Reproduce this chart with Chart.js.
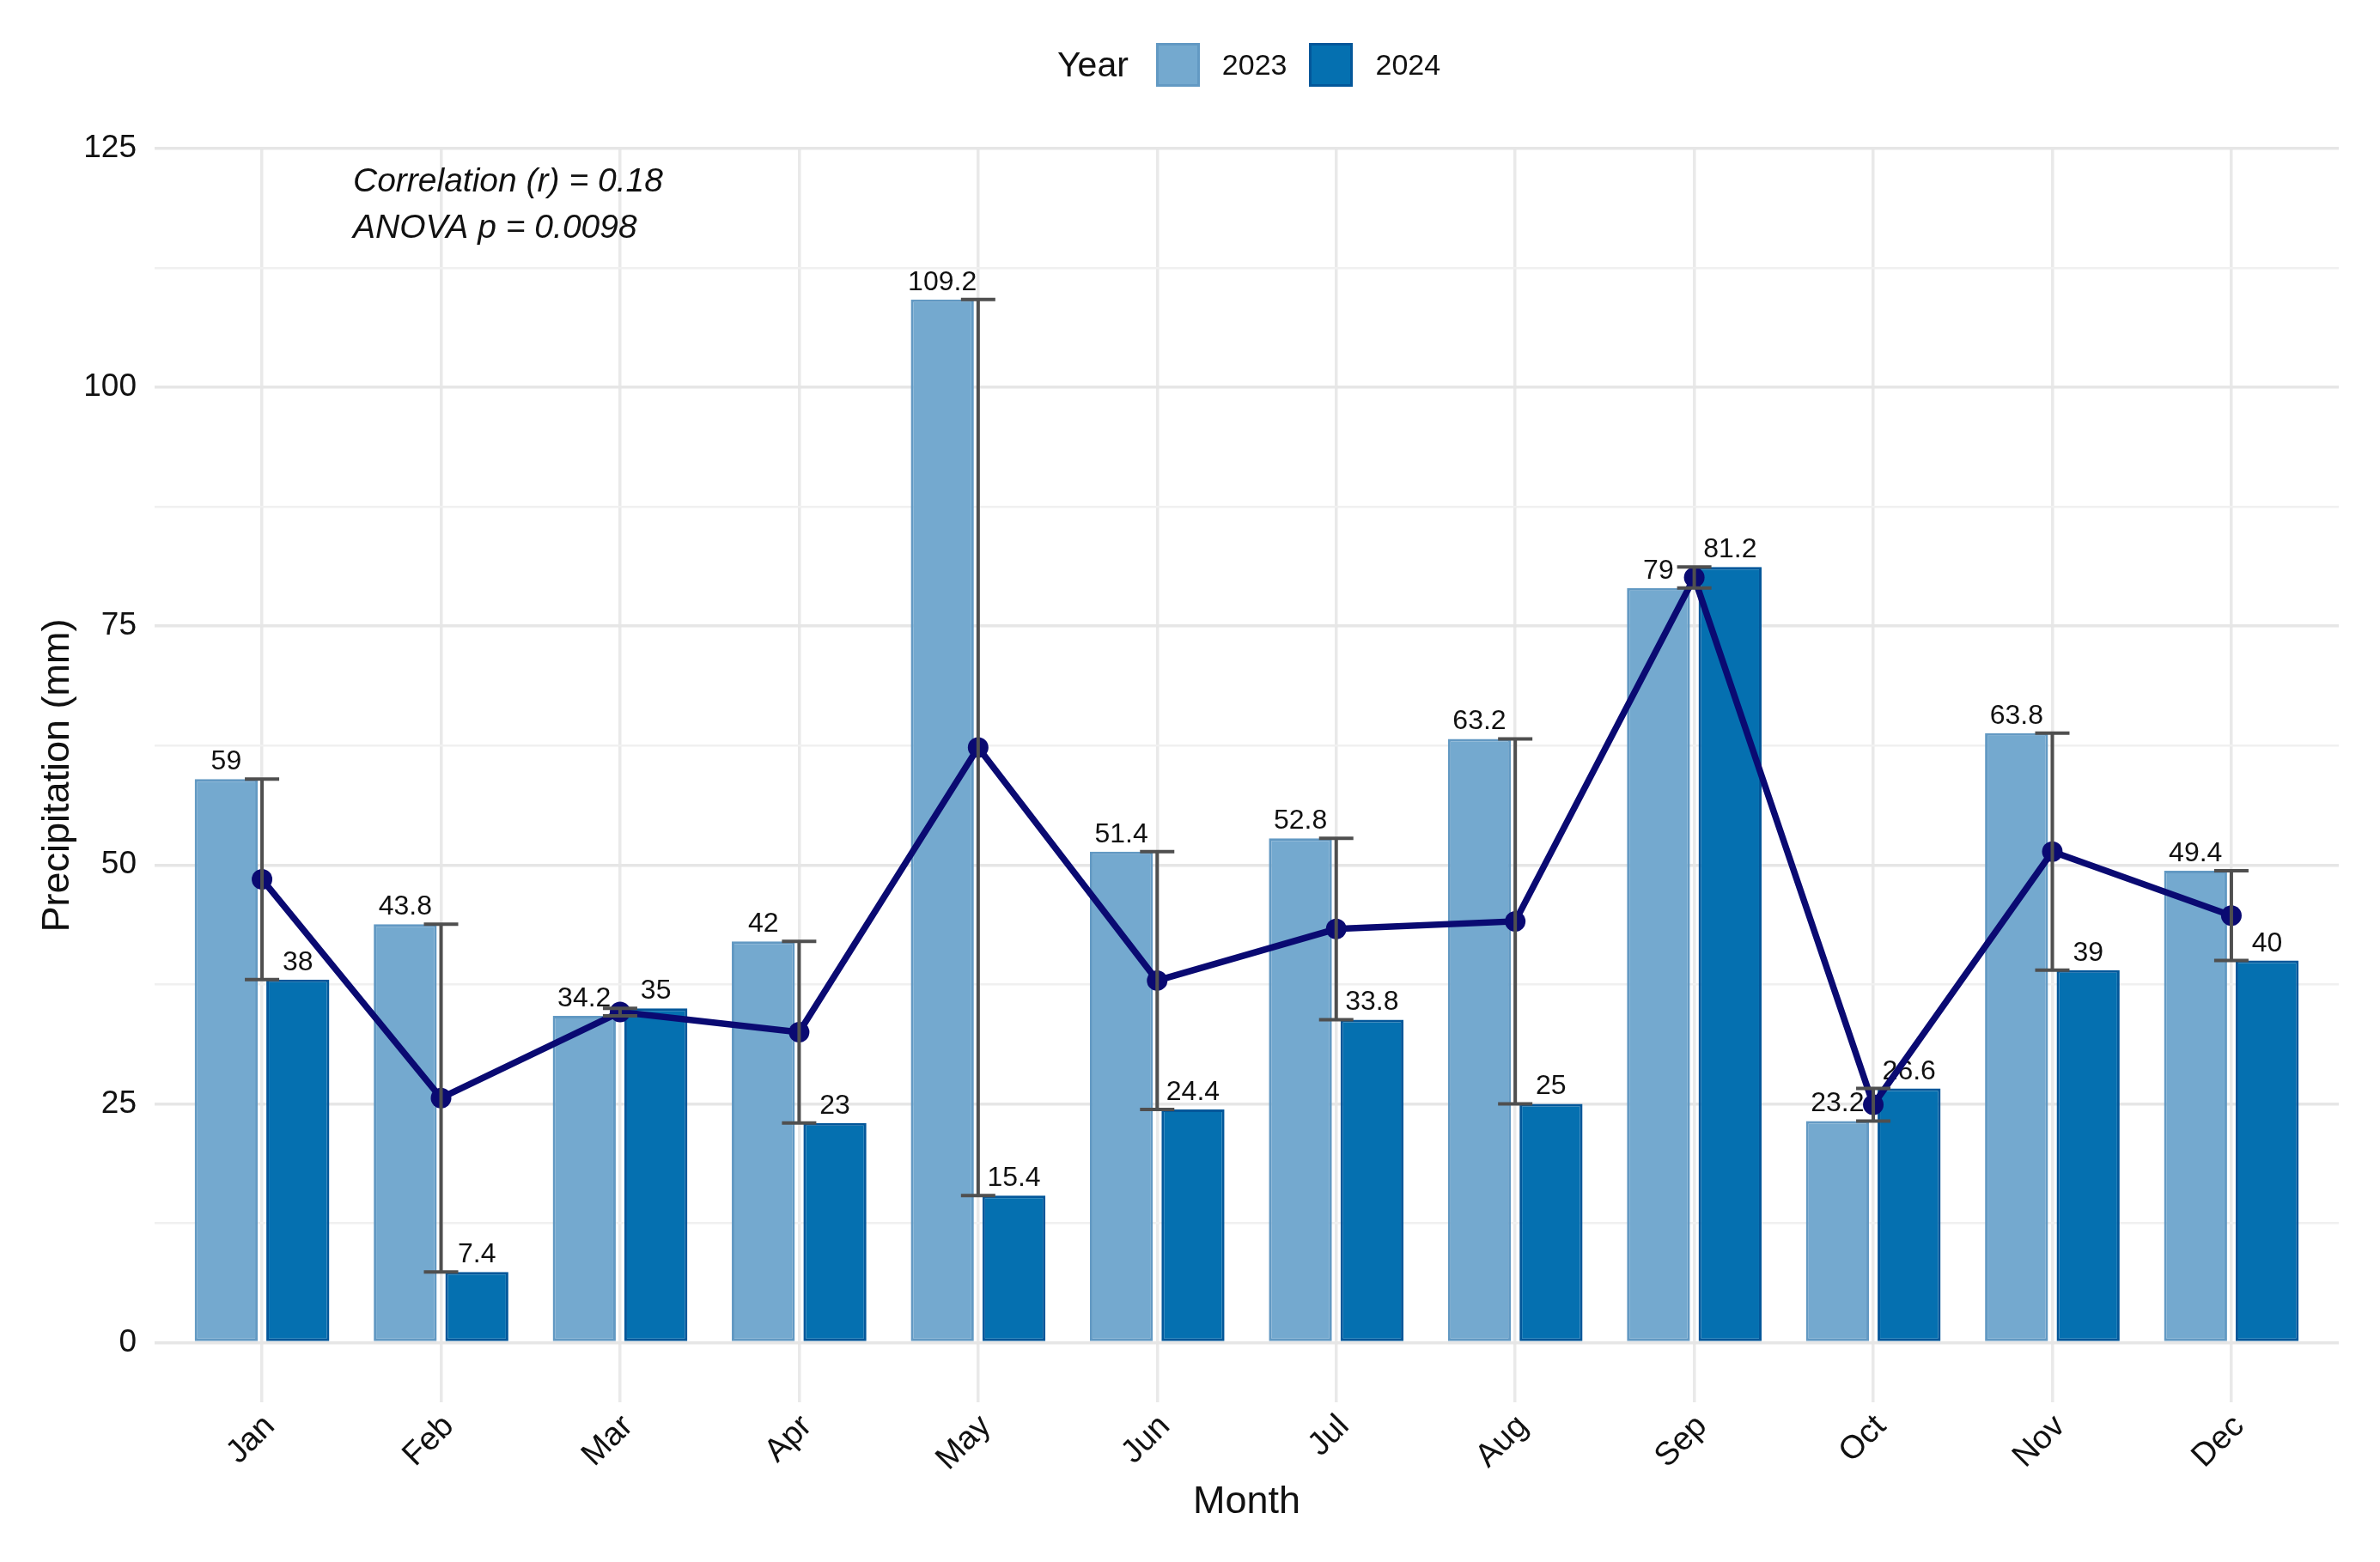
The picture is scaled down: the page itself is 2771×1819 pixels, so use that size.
<!DOCTYPE html>
<html>
<head>
<meta charset="utf-8">
<title>Monthly precipitation 2023 vs 2024</title>
<script src="https://cdn.jsdelivr.net/npm/chart.js@4.4.1/dist/chart.umd.min.js"></script>
<style>
  html, body { margin: 0; padding: 0; background: #fff; }
  #wrap { position: relative; width: 2771px; height: 1819px; }
  #legend {
    position: absolute; left: 1231px; top: 50px; height: 51px;
    display: flex; align-items: center;
    font-family: "Liberation Sans", Arial, sans-serif; color: #111;
  }
  #legend .title { font-size: 41px; margin-right: 32px; }
  #legend .box { width: 51px; height: 51px; box-sizing: border-box; border: 3px solid; }
  #legend .lab { font-size: 34px; margin-left: 26px; margin-right: 26px; }
</style>
</head>
<body>
<div id="wrap">
  <canvas id="rainChart" width="2771" height="1819"></canvas>
  <div id="legend"></div>
</div>
<script>
'use strict';

const months = ['Jan', 'Feb', 'Mar', 'Apr', 'May', 'Jun', 'Jul', 'Aug', 'Sep', 'Oct', 'Nov', 'Dec'];
const rain2023 = [59, 43.8, 34.2, 42, 109.2, 51.4, 52.8, 63.2, 79, 23.2, 63.8, 49.4];
const rain2024 = [38, 7.4, 35, 23, 15.4, 24.4, 33.8, 25, 81.2, 26.6, 39, 40];
// mean line
const monthlyMean = [48.5, 25.6, 34.6, 32.5, 62.3, 37.9, 43.3, 44.1, 80.1, 24.9, 51.4, 44.7];
const yMajorTicks = [0, 25, 50, 75, 100, 125];
const yMinorTicks = [12.5, 37.5, 62.5, 87.5, 112.5];
const statsText = ['Correlation (r) = 0.18', 'ANOVA p = 0.0098'];

const years = ['2023', '2024'];
const fills = ['#74a9cf', '#0570b0'];
const borders = ['#6299c3', '#03579a'];
const navy = '#0a0a72';
const FONT = '"Liberation Sans", Arial, sans-serif';

// Legend (html, ggplot style: title on the left)
const legend = document.getElementById('legend');
legend.innerHTML = '<span class="title">Year</span>';
years.forEach((y, i) => {
    legend.innerHTML += `<span class="box" style="background:${fills[i]};border-color:${borders[i]}"></span><span class="lab">${y}</span>`;
});

// labels on top of each bar
const barLabels = {
    id: 'barLabels',
    afterDatasetDraw(chart, args) {
        const ds = chart.data.datasets[args.index];
        if (ds.type !== 'bar') return;
        const ctx = chart.ctx;
        ctx.save();
        ctx.font = '32px ' + FONT;
        ctx.fillStyle = '#111';
        ctx.textAlign = 'center';
        ctx.textBaseline = 'alphabetic';
        args.meta.data.forEach((bar, i) => {
            ctx.fillText(String(ds.data[i].y), bar.x, bar.y - 11);
        });
        ctx.restore();
    }
};

// range bars between the two years + stats text
const rangeBars = {
    id: 'rangeBars',
    afterDatasetsDraw(chart) {
        const ctx = chart.ctx;
        const xs = chart.scales.x;
        const ys = chart.scales.y;
        ctx.save();
        ctx.strokeStyle = '#4f4f4f';
        ctx.lineWidth = 4;
        months.forEach((m, i) => {
            const x = xs.getPixelForValue(i);
            const lo = ys.getPixelForValue(Math.min(rain2023[i], rain2024[i]));
            const hi = ys.getPixelForValue(Math.max(rain2023[i], rain2024[i]));
            ctx.beginPath();
            ctx.moveTo(x, lo); ctx.lineTo(x, hi);
            ctx.moveTo(x - 20, lo); ctx.lineTo(x + 20, lo);
            ctx.moveTo(x - 20, hi); ctx.lineTo(x + 20, hi);
            ctx.stroke();
        });
        ctx.restore();
    },
    afterDraw(chart) {
        const ctx = chart.ctx;
        const area = chart.chartArea;
        ctx.save();
        ctx.font = 'italic 39px ' + FONT;
        ctx.fillStyle = '#111';
        ctx.textAlign = 'left';
        statsText.forEach((t, i) => {
            ctx.fillText(t, area.left + 231, area.top + 50 + i * 54);
        });
        ctx.restore();
    }
};

const ctx = document.getElementById('rainChart').getContext('2d');
new Chart(ctx, {
    data: {
        datasets: [
            {
                type: 'line',
                label: 'Mean',
                data: monthlyMean.map((v, i) => ({ x: i, y: v })),
                borderColor: navy,
                backgroundColor: navy,
                borderWidth: 7.5,
                pointRadius: 12,
                pointBackgroundColor: navy,
                pointBorderWidth: 0,
                tension: 0,
                order: 0
            },
            {
                type: 'bar',
                label: years[0],
                data: rain2023.map((v, i) => ({ x: i, y: v })),
                backgroundColor: fills[0],
                borderColor: borders[0],
                borderWidth: 3,
                borderSkipped: false,
                categoryPercentage: 0.8,
                barPercentage: 0.88,
                order: 1
            },
            {
                type: 'bar',
                label: years[1],
                data: rain2024.map((v, i) => ({ x: i, y: v })),
                backgroundColor: fills[1],
                borderColor: borders[1],
                borderWidth: 3,
                borderSkipped: false,
                categoryPercentage: 0.8,
                barPercentage: 0.88,
                order: 1
            }
        ]
    },
    options: {
        responsive: false,
        animation: false,
        devicePixelRatio: 1,
        layout: { padding: { left: 0, top: 173, right: 48, bottom: 0 } },
        plugins: {
            legend: { display: false },
            tooltip: { enabled: false }
        },
        scales: {
            x: {
                type: 'linear',
                min: -0.6,
                max: 11.6,
                offset: false,
                afterBuildTicks: scale => {
                    scale.ticks = months.map((m, i) => ({ value: i }));
                },
                afterFit: scale => { scale.height = 186; },
                grid: { offset: false, color: '#e9e9e9', lineWidth: 3.5, drawTicks: false },
                border: { display: false },
                ticks: {
                    callback: v => months[v],
                    minRotation: 45,
                    maxRotation: 45,
                    padding: 6,
                    labelOffset: 9,
                    color: '#111',
                    font: { family: FONT, size: 38 }
                },
                title: {
                    display: true,
                    text: 'Month',
                    color: '#111',
                    font: { family: FONT, size: 45 },
                    padding: { top: 0, bottom: 42 }
                }
            },
            y: {
                type: 'linear',
                min: -6.25,
                max: 125,
                afterBuildTicks: scale => {
                    scale.ticks = yMajorTicks.concat(yMinorTicks).sort((a, b) => a - b).map(v => ({ value: v }));
                },
                afterFit: scale => { scale.width = 180; },
                grid: {
                    drawTicks: false,
                    color: c => yMajorTicks.includes(c.tick.value) ? '#e6e6e6' : '#f0f0f0',
                    lineWidth: c => yMajorTicks.includes(c.tick.value) ? 3.5 : 2.5
                },
                border: { display: false },
                ticks: {
                    callback: v => yMajorTicks.includes(v) ? String(v) : '',
                    padding: 21,
                    color: '#111',
                    font: { family: FONT, size: 37 }
                },
                title: {
                    display: true,
                    text: 'Precipitation (mm)',
                    color: '#111',
                    font: { family: FONT, size: 45 },
                    padding: { top: 41, bottom: 0 }
                }
            }
        }
    },
    plugins: [barLabels, rangeBars]
});
</script>
</body>
</html>
